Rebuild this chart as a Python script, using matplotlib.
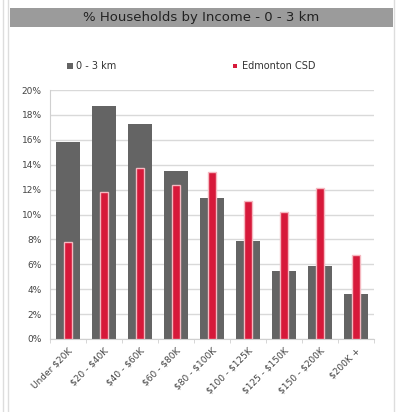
import matplotlib
matplotlib.use("Agg")
import matplotlib.pyplot as plt
from matplotlib.patches import Rectangle
from matplotlib.lines import Line2D
import numpy as np

categories = ["Under $20K", "$20 - $40K", "$40 - $60K", "$60 - $80K", "$80 - $100K",
              "$100 - $125K", "$125 - $150K", "$150 - $200K", "$200K +"]
km03 = [15.8, 18.7, 17.3, 13.5, 11.3, 7.9, 5.5, 5.9, 3.6]
edmonton = [7.8, 11.8, 13.7, 12.4, 13.4, 11.1, 10.2, 12.1, 6.75]
yticks = [0, 2, 4, 6, 8, 10, 12, 14, 16, 18, 20]

W, H = 401, 412
fig = plt.figure(figsize=(W / 100, H / 100), dpi=100)
fig.patch.set_facecolor("white")

# outer frame lines
for xx in [3 / W, 8 / W, 394 / W]:
    fig.add_artist(Line2D([xx, xx], [0, 1], color="#dddddd", lw=1))

# title band
fig.add_artist(Rectangle((10 / W, 1 - 27 / H), (393 - 10) / W, 19 / H,
                         facecolor="#9b9b9b", edgecolor="none"))
fig.text(201 / W, 1 - 17.5 / H, "% Households by Income - 0 - 3 km",
         ha="center", va="center", fontsize=9.5, color="#222222")

ax = fig.add_axes([50 / W, 73 / H, (374 - 50) / W, 249 / H])
x = np.arange(len(categories))
gray = "#646464"
red = "#d7193a"
ax.bar(x, km03, width=0.68, color=gray, zorder=2)
ax.bar(x, edmonton, width=0.21, color=red, edgecolor="#f5b8c0", linewidth=1.0, zorder=3)

ax.set_xlim(-0.5, len(categories) - 0.5)
ax.set_ylim(0, 20)
ax.set_yticks(yticks)
ax.set_yticklabels([f"{v}%" for v in yticks], fontsize=6.5, color="#444444")
ax.yaxis.grid(True, color="#d9d9d9", lw=1, zorder=0)
ax.set_axisbelow(True)
for s in ["top", "right"]:
    ax.spines[s].set_visible(False)
ax.spines["left"].set_color("#d0d0d0")
ax.spines["bottom"].set_color("#d0d0d0")
ax.tick_params(axis="y", length=0, pad=6)
ax.set_xticks(x)
ax.set_xticklabels([c.replace("$", r"\$") for c in categories], rotation=45, ha="right",
                   rotation_mode="anchor", fontsize=6.5, color="#444444")
ax.tick_params(axis="x", length=0, pad=5)
ax.set_xticks(np.arange(-0.5, len(categories)), minor=True)
ax.tick_params(axis="x", which="minor", length=3, color="#d0d0d0")

# legend
fig.add_artist(Rectangle((67 / W, 1 - 69 / H), 6 / W, 6 / H, facecolor=gray, edgecolor="none"))
fig.text(76 / W, 1 - 66 / H, "0 - 3 km", ha="left", va="center", fontsize=7, color="#333333")
fig.add_artist(Rectangle((233 / W, 1 - 68 / H), 4 / W, 4 / H, facecolor=red, edgecolor="none"))
fig.text(242 / W, 1 - 66 / H, "Edmonton CSD", ha="left", va="center", fontsize=7, color="#333333")

fig.savefig("out.png", dpi=100, facecolor="white")
